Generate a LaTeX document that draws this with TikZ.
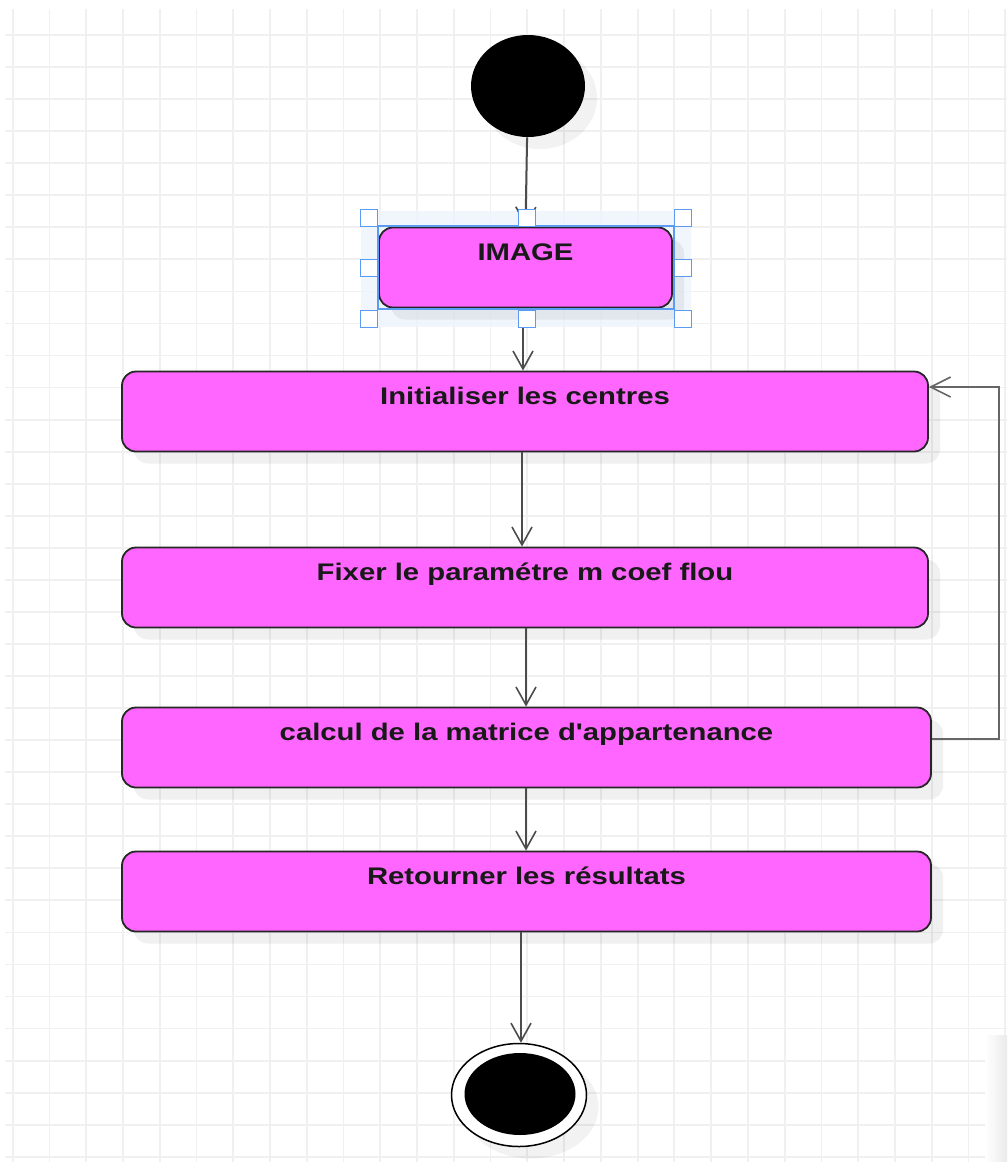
\documentclass[tikz,border=0pt]{standalone}
\usepackage{fontspec}
\setmainfont{Liberation Sans}
\newfontfamily\actfont[FakeStretch=1.22]{Liberation Sans}
\usetikzlibrary{arrows.meta,calc,shapes.geometric,shadows}

\definecolor{actpink}{HTML}{FF66FF}
\definecolor{gridgray}{HTML}{F0F0F0}
\definecolor{selblue}{HTML}{5B9CF2}
\definecolor{selfill}{HTML}{EDF4FD}

\tikzset{
  act/.style={draw=black!85, line width=0.9pt, fill=actpink,
    rounded corners=7pt, minimum height=40pt, inner sep=0pt,
    text height=9pt, text depth=16pt, text=black!90,
    font=\actfont\bfseries\fontsize{12}{14}\selectfont,
    drop shadow={shadow xshift=6pt, shadow yshift=-6pt, fill=black, opacity=0.06}},
  flow/.style={draw=black!70, line width=1pt,
    -{Straight Barb[length=9pt,width=10pt,line width=0.8pt]}},
  back/.style={draw=black!60, line width=1pt,
    -{Straight Barb[length=10pt,width=10pt,line width=0.8pt]}},
  handle/.style={draw=selblue, fill=white, line width=0.75pt,
    minimum size=8.5pt, inner sep=0pt},
}

\begin{document}
\begin{tikzpicture}[x=0.5pt, y=-0.5pt]

\newcommand\GX{36.76}
\newcommand\GY{32.05}

  \useasboundingbox (0,0) rectangle (1007,1162);

  %% background grid
  \begin{scope}
    \clip (5,9) rectangle (1007,1162);
    \foreach \k in {0,...,27}
      \draw[gridgray, line width=0.9pt] (12.7+\k*\GX,9) -- (12.7+\k*\GX,1162);
    \foreach \k in {0,...,35}
      \draw[gridgray, line width=0.9pt] (5,35+\k*\GY) -- (1007,35+\k*\GY);
  \end{scope}
  \shade[left color=white, right color=black!8] (985,1035) rectangle (1007,1162);

  %% selection area behind the image step
  \fill[selfill, opacity=0.8] (361,211) rectangle (691,327);

  %% initial state
  \node[ellipse, fill=black, minimum width=57pt, minimum height=51pt,
    drop shadow={shadow xshift=6pt, shadow yshift=-6pt, fill=black, opacity=0.05}]
    (start) at (528,86) {};

  %% activities
  \node[act, minimum width=146.5pt] (img)  at (525.5,267.5) {IMAGE};
  \node[act, minimum width=403pt]   (init) at (525,411.5) {Initialiser les centres};
  \node[act, minimum width=403pt]   (fix)  at (525,587.5) {Fixer le paramétre m coef flou};
  \node[act, minimum width=404.5pt] (calc) at (526.5,747.5) {calcul de la matrice d'appartenance};
  \node[act, minimum width=404.5pt] (ret)  at (526.5,891.5) {Retourner les résultats};

  %% final state
  \node[ellipse, draw=black, line width=0.75pt, fill=white,
    minimum width=67.5pt, minimum height=51.5pt,
    drop shadow={shadow xshift=6pt, shadow yshift=-6pt, fill=black, opacity=0.05}]
    (stop) at (519,1095) {};
  \node[ellipse, fill=black, minimum width=55.5pt, minimum height=41pt]
    (stopdot) at (520,1094) {};

  %% transitions
  \draw[flow] (start) -- (img.north);
  \draw[flow] (img.south -| 523,0) -- (init.north -| 523,0);
  \draw[flow] (init.south -| 522,0) -- (fix.north -| 522,0);
  \draw[flow] (fix.south -| 526,0) -- (calc.north -| 526,0);
  \draw[flow] (calc.south -| 526,0) -- (ret.north -| 526,0);
  \draw[flow] (ret.south -| 521,0) -- (stop.north -| 521,0);

  %% loop back to the centres
  \draw[back] ($(calc.east)+(0,-8.5)$) -- ++(67,0) |- ($(init.east)+(0,-24.5)$);

  %% selection frame and handles
  \draw[selblue, line width=0.75pt] (378,226) rectangle (674,309);
  \foreach \hx/\hy in {369/218, 527/218, 683/218, 369/268,
                       683/268, 369/319, 527/319, 683/319}
    \node[handle] (h-\hx-\hy) at (\hx,\hy) {};

\end{tikzpicture}
\end{document}
